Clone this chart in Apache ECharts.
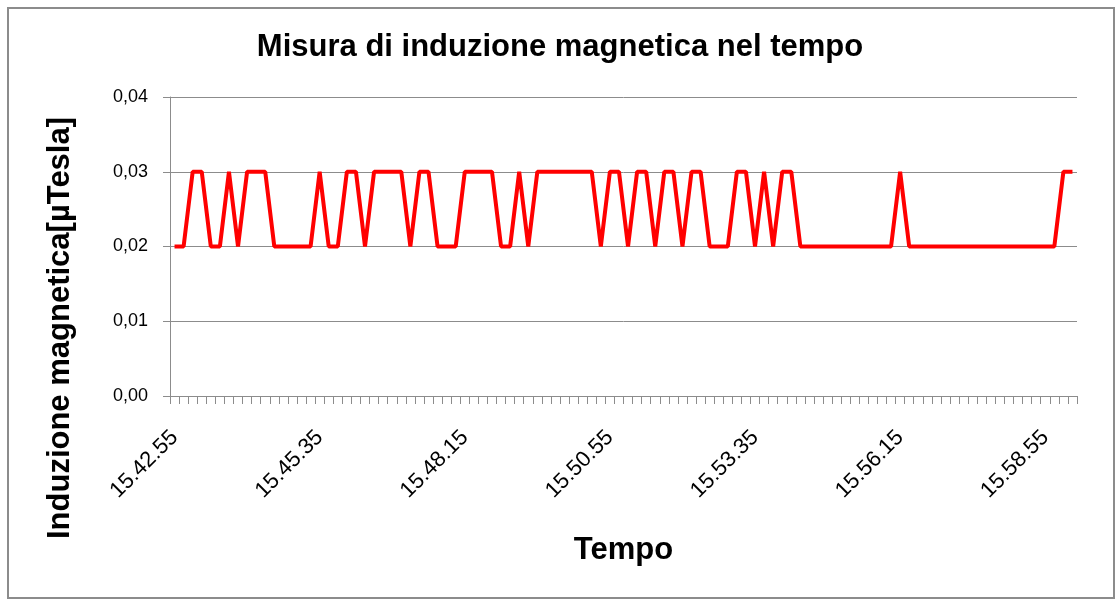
<!DOCTYPE html>
<html>
<head>
<meta charset="utf-8">
<script src="https://cdn.jsdelivr.net/npm/echarts@6/dist/echarts.min.js"></script>
<style>
    html, body { margin: 0; padding: 0; background: #fff; }
    #frame {
        position: absolute; left: 7px; top: 7px; width: 1104px; height: 588px;
        border: 2px solid #8c8c8c;
    }
    #chart { position: absolute; left: 0; top: 0; width: 1120px; height: 603px; }
</style>
</head>
<body>
<div id="frame"></div>
<div id="chart"></div>
<script>
// campioni ogni 10 secondi
var tempi = [
    '15.42.55',
    '15.43.05', '15.43.15', '15.43.25', '15.43.35', '15.43.45', '15.43.55',
    '15.44.05', '15.44.15', '15.44.25', '15.44.35', '15.44.45', '15.44.55',
    '15.45.05', '15.45.15', '15.45.25', '15.45.35', '15.45.45', '15.45.55',
    '15.46.05', '15.46.15', '15.46.25', '15.46.35', '15.46.45', '15.46.55',
    '15.47.05', '15.47.15', '15.47.25', '15.47.35', '15.47.45', '15.47.55',
    '15.48.05', '15.48.15', '15.48.25', '15.48.35', '15.48.45', '15.48.55',
    '15.49.05', '15.49.15', '15.49.25', '15.49.35', '15.49.45', '15.49.55',
    '15.50.05', '15.50.15', '15.50.25', '15.50.35', '15.50.45', '15.50.55',
    '15.51.05', '15.51.15', '15.51.25', '15.51.35', '15.51.45', '15.51.55',
    '15.52.05', '15.52.15', '15.52.25', '15.52.35', '15.52.45', '15.52.55',
    '15.53.05', '15.53.15', '15.53.25', '15.53.35', '15.53.45', '15.53.55',
    '15.54.05', '15.54.15', '15.54.25', '15.54.35', '15.54.45', '15.54.55',
    '15.55.05', '15.55.15', '15.55.25', '15.55.35', '15.55.45', '15.55.55',
    '15.56.05', '15.56.15', '15.56.25', '15.56.35', '15.56.45', '15.56.55',
    '15.57.05', '15.57.15', '15.57.25', '15.57.35', '15.57.45', '15.57.55',
    '15.58.05', '15.58.15', '15.58.25', '15.58.35', '15.58.45', '15.58.55',
    '15.59.05', '15.59.15', '15.59.25'
];

// induzione magnetica [µTesla]
var induzione = [
    0.02, 0.02, 0.03, 0.03, 0.02, 0.02, 0.03, 0.02, 0.03, 0.03,
    0.03, 0.02, 0.02, 0.02, 0.02, 0.02, 0.03, 0.02, 0.02, 0.03,
    0.03, 0.02, 0.03, 0.03, 0.03, 0.03, 0.02, 0.03, 0.03, 0.02,
    0.02, 0.02, 0.03, 0.03, 0.03, 0.03, 0.02, 0.02, 0.03, 0.02,
    0.03, 0.03, 0.03, 0.03, 0.03, 0.03, 0.03, 0.02, 0.03, 0.03,
    0.02, 0.03, 0.03, 0.02, 0.03, 0.03, 0.02, 0.03, 0.03, 0.02,
    0.02, 0.02, 0.03, 0.03, 0.02, 0.03, 0.02, 0.03, 0.03, 0.02,
    0.02, 0.02, 0.02, 0.02, 0.02, 0.02, 0.02, 0.02, 0.02, 0.02,
    0.03, 0.02, 0.02, 0.02, 0.02, 0.02, 0.02, 0.02, 0.02, 0.02,
    0.02, 0.02, 0.02, 0.02, 0.02, 0.02, 0.02, 0.02, 0.03, 0.03
];

var myChart = echarts.init(document.getElementById('chart'));

var option = {
    animation: false,
    title: {
        text: 'Misura di induzione magnetica nel tempo',
        left: 'center',
        top: 27,
        textStyle: {
            fontFamily: 'Liberation Sans',
            fontSize: 31,
            fontWeight: 'bold',
            color: '#000'
        }
    },
    // titolo asse y, piu' in basso rispetto al centro del grafico
    graphic: [{
        type: 'text',
        x: 60,
        y: 328,
        rotation: Math.PI / 2,
        style: {
            text: 'Induzione magnetica[µTesla]',
            fontFamily: 'Liberation Sans',
            fontSize: 31,
            fontWeight: 'bold',
            fill: '#000',
            align: 'center',
            verticalAlign: 'middle'
        }
    }],
    grid: {
        left: 170,
        right: 43,
        top: 97,
        bottom: 207
    },
    xAxis: {
        type: 'category',
        data: tempi,
        boundaryGap: true,
        name: 'Tempo',
        nameLocation: 'middle',
        nameGap: 139,
        nameTextStyle: {
            fontFamily: 'Liberation Sans',
            fontSize: 31,
            fontWeight: 'bold',
            color: '#000'
        },
        axisLine: { lineStyle: { color: '#8c8c8c', width: 1 } },
        axisTick: {
            show: true,
            interval: 0,
            length: 8,
            lineStyle: { color: '#8c8c8c' }
        },
        axisLabel: {
            interval: 15,
            rotate: 45,
            margin: 38,
            fontFamily: 'Liberation Sans',
            fontSize: 22,
            color: '#000'
        },
        splitLine: { show: false }
    },
    yAxis: {
        type: 'value',
        min: 0,
        max: 0.04,
        interval: 0.01,
        axisLine: { show: true, lineStyle: { color: '#8c8c8c', width: 1 } },
        axisTick: { show: true, length: 7, lineStyle: { color: '#8c8c8c' } },
        axisLabel: {
            margin: 22,
            fontFamily: 'Liberation Sans',
            fontSize: 18,
            color: '#000',
            formatter: function (v) {
                return v.toFixed(2).replace('.', ',');
            }
        },
        splitLine: { lineStyle: { color: '#8c8c8c', width: 1 } }
    },
    series: [{
        type: 'line',
        data: induzione,
        showSymbol: false,
        symbol: 'none',
        lineStyle: { color: '#ff0000', width: 4 },
        itemStyle: { color: '#ff0000' }
    }]
};

myChart.setOption(option);
</script>
</body>
</html>
